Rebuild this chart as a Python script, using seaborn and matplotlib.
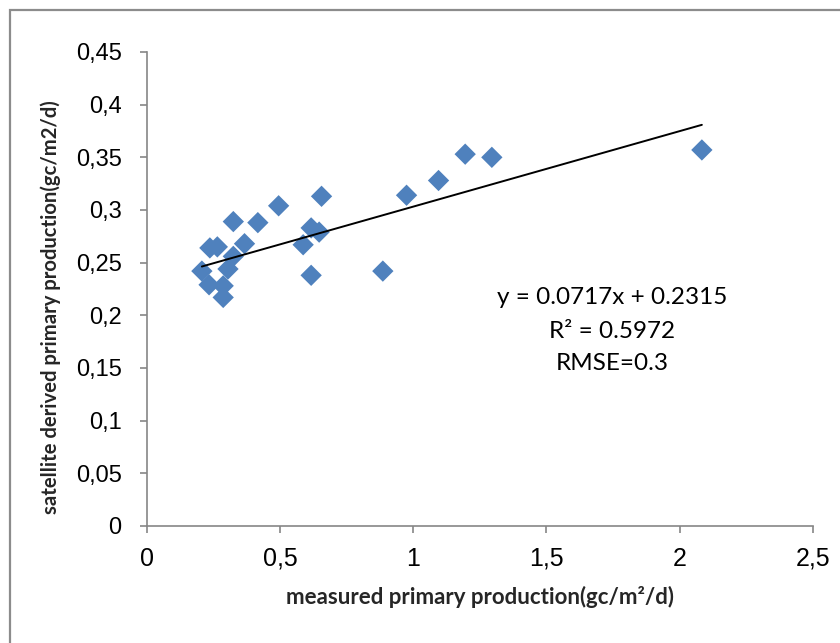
import matplotlib
matplotlib.use("Agg")
import matplotlib.pyplot as plt
from matplotlib.patches import Rectangle
from matplotlib.ticker import FuncFormatter
import seaborn as sns
import pandas as pd

# ---- data ----
measured = [0.207, 0.234, 0.287, 0.287, 0.305, 0.237, 0.265, 0.325, 0.367, 0.325,
            0.417, 0.495, 0.656, 0.617, 0.647, 0.587, 0.617, 0.886, 0.975, 1.095,
            1.195, 1.295, 2.083]
satellite = [0.242, 0.229, 0.228, 0.217, 0.244, 0.264, 0.265, 0.256, 0.268, 0.289,
             0.288, 0.304, 0.313, 0.283, 0.279, 0.267, 0.238, 0.242, 0.314, 0.328,
             0.353, 0.350, 0.357]
slope = 0.0717
intercept = 0.2315
eq_lines = ["y = 0.0717x + 0.2315", "R\u00b2 = 0.5972", "RMSE=0.3"]
x_ticks = [0, 0.5, 1, 1.5, 2, 2.5]
y_ticks = [0, 0.05, 0.1, 0.15, 0.2, 0.25, 0.3, 0.35, 0.4, 0.45]
x_label = "measured primary production(gc/m\u00b2/d)"
y_label = "satellite derived primary production(gc/m2/d)"

df = pd.DataFrame({"measured": measured, "satellite": satellite})

sns.set_theme(style="white")
plt.rcParams["font.family"] = ["Liberation Sans", "DejaVu Sans"]

W, H = 840, 643
fig = plt.figure(figsize=(W / 100, H / 100), dpi=100)
ax = fig.add_axes([146.7 / W, 1 - 526 / H, (813 - 146.7) / W, (526 - 52) / H])

sns.scatterplot(data=df, x="measured", y="satellite", marker="D", s=118,
                color="#4F81BD", edgecolor="none", linewidth=0, ax=ax, zorder=3)

x0, x1 = min(measured), max(measured)
line_df = pd.DataFrame({"x": [x0, x1], "y": [slope * x0 + intercept, slope * x1 + intercept]})
sns.lineplot(data=line_df, x="x", y="y", color="black", linewidth=1.4, ax=ax, zorder=4)

ax.set_xlim(0, 2.5)
ax.set_ylim(0, 0.45)
ax.set_xticks(x_ticks)
ax.set_yticks(y_ticks)
fmt = FuncFormatter(lambda v, p: ("%g" % v).replace(".", ","))
ax.xaxis.set_major_formatter(fmt)
ax.yaxis.set_major_formatter(fmt)

for s in ["top", "right"]:
    ax.spines[s].set_visible(False)
for s in ["left", "bottom"]:
    ax.spines[s].set_color("#868686")
    ax.spines[s].set_linewidth(1.2)

ax.tick_params(axis="both", which="major", direction="out", length=5, width=1.2,
               color="#868686", labelcolor="black")
ax.tick_params(axis="x", labelsize=18, pad=10, bottom=True)
ax.tick_params(axis="y", labelsize=17, pad=13, left=True)

ax.set_xlabel(x_label, fontsize=16, fontweight="bold", family=["Lato", "DejaVu Sans"])
ax.set_ylabel(y_label, fontsize=14.6, fontweight="bold", family=["Lato", "DejaVu Sans"])
ax.xaxis.set_label_coords(0.5, -(597 - 526) / (526 - 52), transform=ax.transAxes)
ax.yaxis.set_label_coords(-(146.7 - 51) / (813 - 146.7), (526 - 307) / (526 - 52))
ax.xaxis.label.set_va("center")
ax.yaxis.label.set_va("center")

for txt, yy in zip(eq_lines, [298, 331, 364]):
    fig.text(612 / W, 1 - yy / H, txt, ha="center", va="center", fontsize=17.5,
             family=["Lato", "DejaVu Sans"], color="black")

fig.patches.append(Rectangle((10 / W, -0.1), 1.2, 1 - 10 / H + 0.1,
                             transform=fig.transFigure, fill=False,
                             edgecolor="#8c8c8c", linewidth=1.6))

fig.savefig("out.png", dpi=100, facecolor="white")
